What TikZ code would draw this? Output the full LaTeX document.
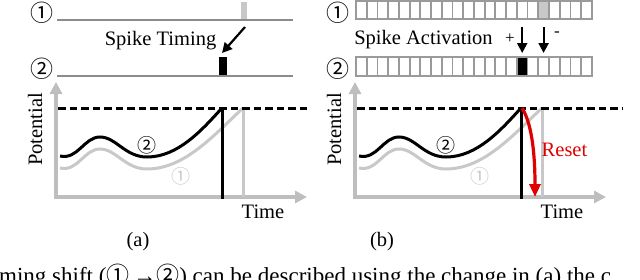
\documentclass[tikz,border=0pt]{standalone}
\usepackage{fontspec}
\setmainfont{Liberation Serif}
\newfontfamily\circfont{Noto Sans CJK JP}
\usetikzlibrary{arrows.meta}
\definecolor{axisgray}{HTML}{BEBEBE}
\definecolor{curvegray}{HTML}{C8C8C8}
\definecolor{linegray}{HTML}{8C8C8C}
\definecolor{boxgray}{HTML}{9A9A9A}
\definecolor{resetred}{HTML}{E00000}
\begin{document}
\begin{tikzpicture}[x=1pt,y=-1pt,
  lbl/.style={inner sep=0, font=\fontsize{20.5}{24}\selectfont},
  bigcirc/.style={inner sep=0, font=\fontsize{23}{24}\circfont},
  smallcirc/.style={inner sep=0, font=\fontsize{19}{20}\circfont},
  baseln/.style={draw=linegray, line width=1.5pt},
  axisln/.style={draw=axisgray, line width=3.2pt, line join=miter,
    {Triangle[length=12pt,width=12pt]}-{Triangle[length=12pt,width=12pt]}},
  curveblack/.style={draw=black, line width=3pt},
  curvegr/.style={draw=curvegray, line width=3pt},
  thresh/.style={draw=black, line width=3pt, dash pattern=on 7.5pt off 4pt},
  spikearrow/.style={draw=black, line width=2.2pt, -{Triangle[length=10pt,width=10pt]}},
  cell/.style={draw=boxgray, line width=1.8pt}]
\useasboundingbox (0,0) rectangle (640,279);

% ===== Panel (a): top =====
\node[bigcirc] (a1) at (42,12.5) {①};
\node[bigcirc] (a2) at (42,69) {②};
\coordinate (a1l) at (57,20); \coordinate (a1r) at (293,20);
\coordinate (a2l) at (57,76); \coordinate (a2r) at (293,76);
\draw[baseln] (a1l) -- (a1r);
\draw[baseln] (a2l) -- (a2r);
\fill[curvegray] (241,2) rectangle (247,19.3);
\fill[black] (219,57) rectangle (227,75.3);
\node[lbl] (timing) at (160.5,41) {Spike Timing};
\coordinate (tarrs) at (245,27); \coordinate (tarre) at (222,53);
\draw[spikearrow] (tarrs) -- (tarre);

% ===== Panel (b): top =====
\node[bigcirc] (b1) at (338,12.5) {①};
\node[bigcirc] (b2) at (338,69) {②};
\fill[curvegray] ({356+17*10.72},1) rectangle ({356+18*10.72},19);
\fill[black] ({356+15*10.72},57) rectangle ({356+16*10.72},76);
\foreach \i in {0,...,21} {
  \draw[cell] ({356+\i*10.72},1) rectangle ({356+(\i+1)*10.72},19);
  \draw[cell] ({356+\i*10.72},57) rectangle ({356+(\i+1)*10.72},76);
}
\node[lbl] (activ) at (423.5,40) {Spike Activation};
\node[inner sep=0, font=\fontsize{17}{18}\selectfont] (plus) at (510,39) {+};
\node[inner sep=0, font=\fontsize{17}{18}\selectfont] (minus) at (557,34) {-};
\coordinate (p1s) at (522.2,27); \coordinate (p1e) at (522.2,53);
\coordinate (p2s) at (543.6,27); \coordinate (p2e) at (543.6,53);
\draw[spikearrow] (p1s) -- (p1e);
\draw[spikearrow] (p2s) -- (p2e);

% ===== Graphs =====
\foreach \dx/\nm/\dend in {0/a/307, 299/b/324} {
\begin{scope}[xshift=\dx]
  \coordinate (\nm-ytip) at (56,82);
  \coordinate (\nm-o) at (56,197);
  \coordinate (\nm-xtip) at (307,197);
  \draw[axisln] (\nm-ytip) -- (\nm-o) -- (\nm-xtip);
  % gray curve (1)
  \draw[curvegr] (60,168) .. controls (78,172) and (84,149) .. (100,149)
     .. controls (116,149) and (125,169) .. (147,169)
     .. controls (185,169) and (215,134) .. (243,108);
  \draw[curvegr] (243,108) -- (243,197);
  % black curve (2)
  \draw[curveblack] (60,156) .. controls (78,160) and (84,137) .. (100,137)
     .. controls (116,137) and (125,157) .. (147,157)
     .. controls (178,157) and (202,130) .. (222,108);
  \draw[curveblack] (222,108) -- (222,198.5);
  % threshold
  \coordinate (\nm-ts) at (58,108); \coordinate (\nm-te) at (\dend,108);
  \draw[thresh] (\nm-ts) -- (\nm-te);
  \node[smallcirc] (\nm-c2) at (147,145) {②};
  \node[smallcirc, text=curvegray] (\nm-c1) at (181,176) {①};
  \node[lbl, rotate=90] (\nm-pot) at (35,129.5) {Potential};
  \node[lbl] (\nm-time) at (263,212) {Time};
\end{scope}
}

% reset arrow
\coordinate (rs) at (522,108); \coordinate (re) at (535,197);
\draw[draw=resetred, line width=3.2pt, -{Triangle[length=13pt,width=11pt]}]
  (rs) .. controls (531,122) and (535,150) .. (re);
\node[lbl, text=resetred] (reset) at (564.5,150) {Reset};

% sub-labels
\node[lbl] (suba) at (138,242) {(a)};
\node[lbl] (subb) at (382,242) {(b)};

% cut-off caption (cropped at the picture's lower edge, as in the reference)
\begin{scope}
\clip (0,0) rectangle (640,279);
\node[anchor=base west, inner sep=0, font=\fontsize{23}{26}\selectfont] (cap) at (-1,283.5)
  {ming shift ({\circfont ①}\,→{\circfont ②}) can be described using the change in (a) the c};
\end{scope}
\end{tikzpicture}
\end{document}
